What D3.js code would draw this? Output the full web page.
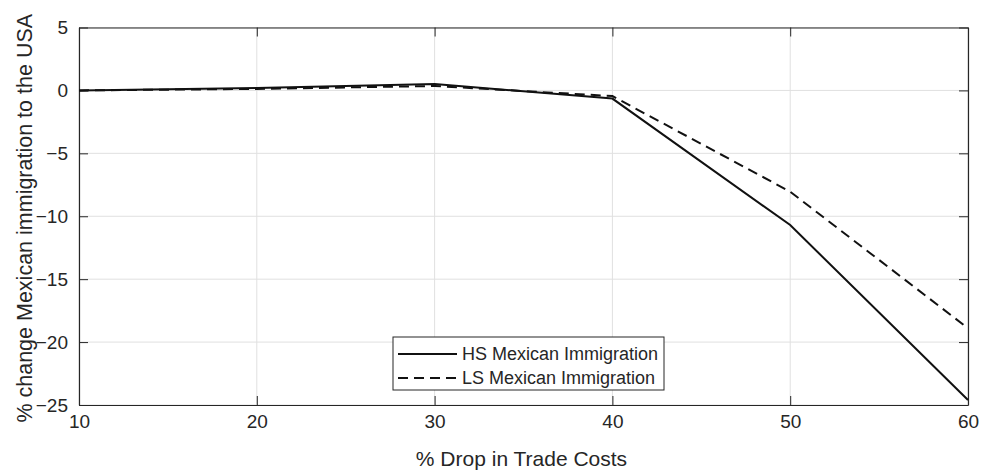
<!DOCTYPE html>
<html><head><meta charset="utf-8">
<script src="https://cdn.jsdelivr.net/npm/d3@7"></script>
<style>body{margin:0;background:#fff}svg{display:block}text{font-family:"Liberation Sans",Arial,sans-serif;fill:#262626}</style>
</head><body><svg id="c" width="985" height="473"></svg>
<script>
const xValues = [10, 20, 30, 40, 50, 60];
const hsMexican = [0, 0.2, 0.5, -0.65, -10.7, -24.6];
const lsMexican = [0, 0.12, 0.35, -0.45, -8.05, -18.9];
const xTicks = [10, 20, 30, 40, 50, 60];
const yTicks = [5, 0, -5, -10, -15, -20, -25];
const seriesNames = ["HS Mexican Immigration", "LS Mexican Immigration"];

const svg = d3.select("#c");
const L = 79, R = 968, T = 27.5, B = 405;
const x = d3.scaleLinear().domain([10, 60]).range([L, R]);
const y = d3.scaleLinear().domain([-25, 5]).range([B, T]);

// grid
const g = svg.append("g");
g.selectAll(".vx").data(xTicks).enter().append("line")
  .attr("x1", d => x(d)).attr("x2", d => x(d)).attr("y1", T).attr("y2", B)
  .attr("stroke", "#e0e0e0").attr("stroke-width", 1);
g.selectAll(".hy").data(yTicks).enter().append("line")
  .attr("y1", d => y(d)).attr("y2", d => y(d)).attr("x1", L).attr("x2", R)
  .attr("stroke", "#e0e0e0").attr("stroke-width", 1);

// axes
const tk = 9;
const xb = svg.append("g").attr("transform", `translate(0,${B})`)
  .call(d3.axisBottom(x).tickValues(xTicks).tickSizeInner(-tk).tickSizeOuter(0).tickPadding(10));
const xt = svg.append("g").attr("transform", `translate(0,${T})`)
  .call(d3.axisTop(x).tickValues(xTicks).tickSizeInner(-tk).tickSizeOuter(0).tickFormat(""));
const yl = svg.append("g").attr("transform", `translate(${L},0)`)
  .call(d3.axisLeft(y).tickValues(yTicks).tickSizeInner(-tk).tickSizeOuter(0).tickPadding(11));
const yr = svg.append("g").attr("transform", `translate(${R},0)`)
  .call(d3.axisRight(y).tickValues(yTicks).tickSizeInner(-tk).tickSizeOuter(0).tickFormat(""));
[xb, xt, yl, yr].forEach(a => {
  a.selectAll("path.domain").attr("stroke", "#262626").attr("stroke-width", 1.2);
  a.selectAll(".tick line").attr("stroke", "#262626").attr("stroke-width", 1);
  a.selectAll("text").attr("font-size", 19).attr("font-family", "Liberation Sans, Arial, sans-serif").attr("fill", "#262626");
});
xb.selectAll("text").attr("dy", "0.71em");

// lines
const line = d3.line().x((d, i) => x(xValues[i])).y(d => y(d));
svg.append("path").datum(hsMexican).attr("d", line).attr("fill", "none")
  .attr("stroke", "#111").attr("stroke-width", 2);
svg.append("path").datum(lsMexican).attr("d", line).attr("fill", "none")
  .attr("stroke", "#111").attr("stroke-width", 2).attr("stroke-dasharray", "10,6");

// labels
svg.append("text").attr("x", (L + R) / 2 - 2).attr("y", 466).attr("text-anchor", "middle")
  .attr("font-size", 21).text("% Drop in Trade Costs");
svg.append("text").attr("transform", `translate(32,${(T + B) / 2 + 2}) rotate(-90)`)
  .attr("text-anchor", "middle").attr("font-size", 21.5)
  .text("% change Mexican immigration to the USA");

// legend
const lg = svg.append("g");
lg.append("rect").attr("x", 393).attr("y", 337).attr("width", 271).attr("height", 53)
  .attr("fill", "#fff").attr("stroke", "#262626").attr("stroke-width", 1);
const dashes = [null, "10,6"];
seriesNames.forEach((s, i) => {
  const yy = 354 + i * 24;
  lg.append("line").attr("x1", 398).attr("x2", 457).attr("y1", yy).attr("y2", yy)
    .attr("stroke", "#111").attr("stroke-width", 2).attr("stroke-dasharray", dashes[i]);
  lg.append("text").attr("x", 462).attr("y", yy).attr("dy", "0.35em")
    .attr("font-size", 18).text(s);
});
</script></body></html>
